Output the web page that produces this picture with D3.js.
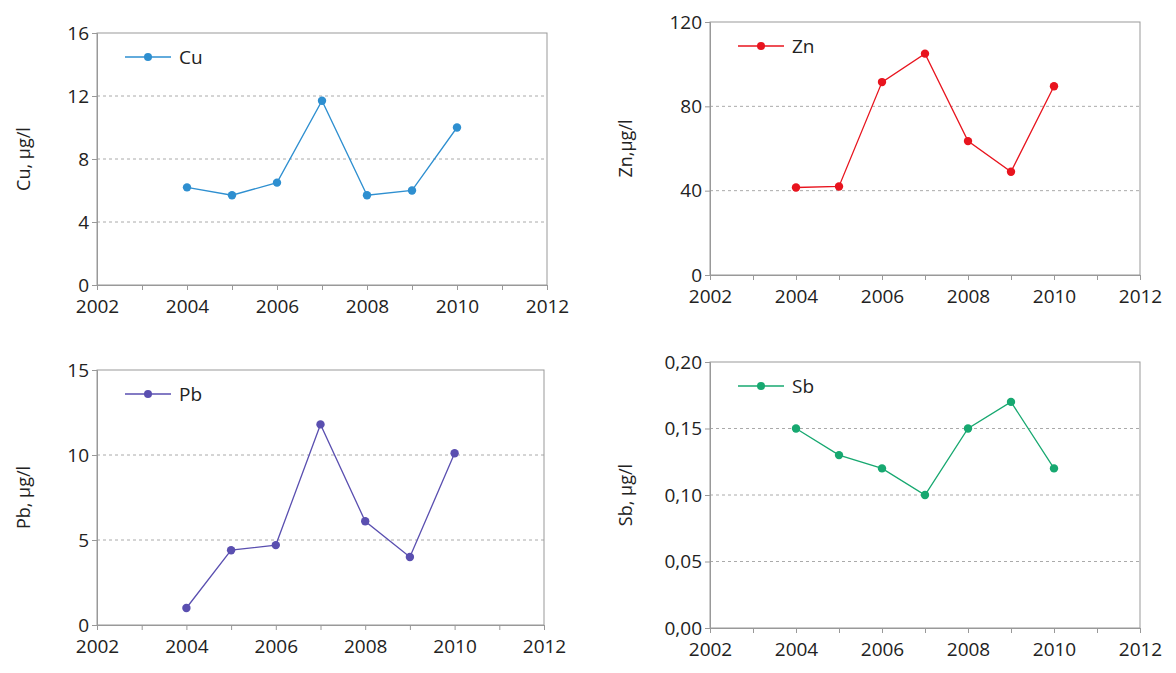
<!DOCTYPE html><html><head><meta charset="utf-8">
<script src="https://cdn.jsdelivr.net/npm/d3@7"></script>
<style>body{margin:0;background:#fff}text{font-family:"Open Sans",sans-serif;fill:#222}</style>
</head><body><svg id="c" width="1176" height="673"></svg>
<script>
const years=[2004,2005,2006,2007,2008,2009,2010];
const cu=[6.2,5.7,6.5,11.7,5.7,6.0,10.0];
const zn=[41.5,42,91.5,105,63.5,49,89.5];
const pb=[1.0,4.4,4.7,11.8,6.1,4.0,10.1];
const sb=[0.15,0.13,0.12,0.10,0.15,0.17,0.12];
const xTicks=[2002,2004,2006,2008,2010,2012];
const panels=[
 {name:"Cu",label:"Cu, µg/l",vals:cu,color:"#2e8fd0",x0:97,x1:547,yTop:33,yBot:285,max:16,ticks:[0,4,8,12,16],fmt:d=>d,lx:30},
 {name:"Zn",label:"Zn,µg/l",vals:zn,color:"#e8141e",x0:710,x1:1140,yTop:22,yBot:275,max:120,ticks:[0,40,80,120],fmt:d=>d,lx:632},
 {name:"Pb",label:"Pb, µg/l",vals:pb,color:"#5a4fb0",x0:97,x1:544,yTop:370,yBot:625,max:15,ticks:[0,5,10,15],fmt:d=>d,lx:30},
 {name:"Sb",label:"Sb, µg/l",vals:sb,color:"#17a870",x0:710,x1:1140,yTop:362,yBot:628,max:0.2,ticks:[0,0.05,0.1,0.15,0.2],fmt:d=>d.toFixed(2).replace(".",","),lx:632}
];
const svg=d3.select("#c");
panels.forEach(p=>{
 const x=d3.scaleLinear().domain([2002,2012]).range([p.x0,p.x1]);
 const y=d3.scaleLinear().domain([0,p.max]).range([p.yBot,p.yTop]);
 const g=svg.append("g");
 g.selectAll(".gr").data(p.ticks.filter(t=>t>0&&t<p.max)).join("line")
  .attr("x1",p.x0).attr("x2",p.x1).attr("y1",d=>y(d)).attr("y2",d=>y(d))
  .attr("stroke","#aaa").attr("stroke-dasharray","3,3");
 g.append("rect").attr("x",p.x0).attr("y",p.yTop).attr("width",p.x1-p.x0).attr("height",p.yBot-p.yTop)
  .attr("fill","none").attr("stroke","#999");
 const xa=g.append("g").attr("transform",`translate(0,${p.yBot})`)
  .call(d3.axisBottom(x).tickValues(d3.range(2002,2013)).tickSize(5).tickFormat(d=>xTicks.includes(d)?d:""));
 const ya=g.append("g").attr("transform",`translate(${p.x0},0)`)
  .call(d3.axisLeft(y).tickValues(p.ticks).tickSize(5).tickFormat(p.fmt));
 [xa,ya].forEach(a=>{a.select(".domain").attr("stroke","#999");a.selectAll("line").attr("stroke","#999");
  a.selectAll("text").style("font-size","19px").attr("fill","#222");});
 xa.selectAll("text").attr("dy","1.05em");
 g.append("text").attr("transform",`translate(${p.lx},${(p.yTop+p.yBot)/2}) rotate(-90)`)
  .attr("text-anchor","middle").style("font-size","18px").text(p.label);
 const line=d3.line().x((d,i)=>x(years[i])).y(d=>y(d));
 g.append("path").attr("d",line(p.vals)).attr("fill","none").attr("stroke",p.color).attr("stroke-width",1.3);
 g.selectAll(".pt").data(p.vals).join("circle").attr("r",4.2)
  .attr("cx",(d,i)=>x(years[i])).attr("cy",d=>y(d)).attr("fill",p.color);
 const lx=p.x0+28, ly=p.yTop+24;
 g.append("line").attr("x1",lx).attr("x2",lx+46).attr("y1",ly).attr("y2",ly).attr("stroke",p.color).attr("stroke-width",1.3);
 g.append("circle").attr("r",4).attr("cx",lx+23).attr("cy",ly).attr("fill",p.color);
 g.append("text").attr("x",lx+54).attr("y",ly+7).style("font-size","19px").text(p.name);
});
</script></body></html>
